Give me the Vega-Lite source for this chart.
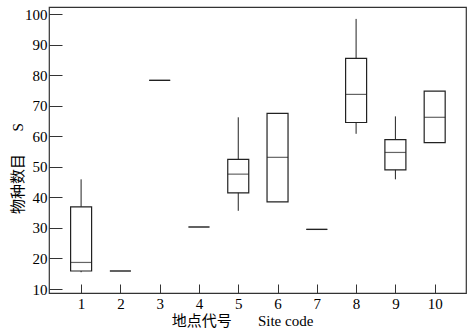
{
  "$schema": "https://vega.github.io/schema/vega-lite/v6.json",
  "width": 417,
  "height": 286,
  "autosize": "none",
  "padding": {"left": 49, "top": 7, "right": 5, "bottom": 38},
  "background": "white",
  "config": {
    "view": {"stroke": "#333", "strokeWidth": 1.2},
    "font": "'Liberation Serif', 'Noto Sans CJK SC'",
    "axisY": {
      "values": [10, 20, 30, 40, 50, 60, 70, 80, 90, 100],
      "grid": false,
      "domain": false,
      "tickSize": -13,
      "tickColor": "#333",
      "labelPadding": 15,
      "labelFontSize": 15,
      "labelColor": "#000",
      "labelOverlap": false,
      "titleFontSize": 15,
      "titleFontWeight": "normal",
      "titleColor": "#000"
    }
  },
  "data": {
    "values": [
      {"site": 1, "min": 15.5, "q1": 15.9, "median": 18.7, "q3": 36.9, "max": 45.9},
      {"site": 2, "min": 15.9, "q1": 15.9, "median": 15.9, "q3": 15.9, "max": 15.9},
      {"site": 3, "min": 78.3, "q1": 78.3, "median": 78.3, "q3": 78.3, "max": 78.3},
      {"site": 4, "min": 30.3, "q1": 30.3, "median": 30.3, "q3": 30.3, "max": 30.3},
      {"site": 5, "min": 35.6, "q1": 41.5, "median": 47.6, "q3": 52.4, "max": 66.2},
      {"site": 6, "min": 38.5, "q1": 38.5, "median": 53.1, "q3": 67.5, "max": 67.5},
      {"site": 7, "min": 29.5, "q1": 29.5, "median": 29.5, "q3": 29.5, "max": 29.5},
      {"site": 8, "min": 60.8, "q1": 64.5, "median": 73.7, "q3": 85.5, "max": 98.4},
      {"site": 9, "min": 45.9, "q1": 49.0, "median": 54.7, "q3": 58.9, "max": 66.5},
      {"site": 10, "min": 57.9, "q1": 57.9, "median": 66.2, "q3": 74.8, "max": 74.8}
    ]
  },
  "encoding": {
    "x": {
      "field": "site",
      "type": "quantitative",
      "scale": {"domain": [0.31, 10.67], "nice": false, "zero": false},
      "axis": {
        "values": [1, 2, 3, 4, 5, 6, 7, 8, 9, 10],
        "format": "d",
        "grid": false,
        "domain": false,
        "tickSize": -9,
        "tickColor": "#333",
        "labelPadding": 12,
        "labelFontSize": 15,
        "labelColor": "#000",
        "labelOverlap": false,
        "title": "地点代号\u00a0\u00a0\u00a0\u00a0\u00a0\u00a0\u00a0Site code",
        "titleFontSize": 15,
        "titleFontWeight": "normal",
        "titleColor": "#000",
        "titlePadding": 2,
        "titleX": 193
      }
    }
  },
  "layer": [
    {
      "mark": {"type": "rule", "color": "#222", "strokeWidth": 1},
      "encoding": {
        "y": {
          "field": "min",
          "type": "quantitative",
          "scale": {"domain": [8.7, 102.3], "nice": false, "zero": false},
          "axis": {
            "values": [10, 20, 30, 40, 50, 60, 70, 80, 90, 100],
            "labelOverlap": false,
            "title": "物种数目\u00a0\u00a0\u00a0\u00a0\u00a0\u00a0S",
            "titleX": -24,
            "titleY": 161
          }
        },
        "y2": {"field": "max"}
      }
    },
    {
      "mark": {"type": "bar", "size": 21, "fill": "white", "stroke": "#222", "strokeWidth": 1.2},
      "encoding": {
        "y": {"field": "q1", "type": "quantitative", "axis": {"values": [10, 20, 30, 40, 50, 60, 70, 80, 90, 100], "labelOverlap": false}},
        "y2": {"field": "q3"}
      }
    },
    {
      "mark": {"type": "tick", "orient": "horizontal", "size": 21, "thickness": 1.2, "color": "#222"},
      "encoding": {
        "y": {"field": "median", "type": "quantitative", "axis": {"values": [10, 20, 30, 40, 50, 60, 70, 80, 90, 100], "labelOverlap": false}}
      }
    }
  ]
}
